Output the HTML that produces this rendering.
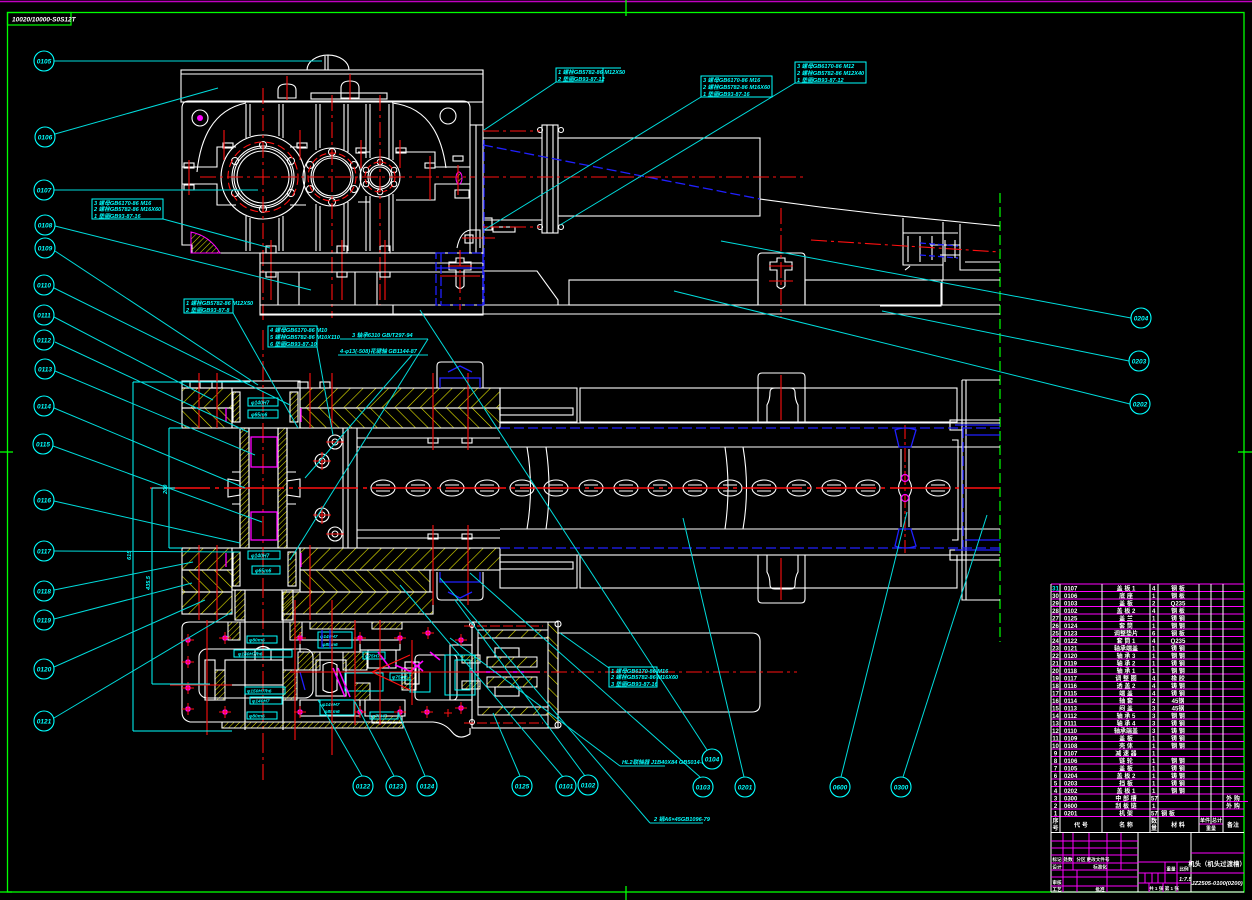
<!DOCTYPE html>
<html><head><meta charset="utf-8"><style>
html,body{margin:0;padding:0;background:#000;}
svg{display:block;}
text{font-family:"Liberation Sans","Noto Sans CJK SC",sans-serif;}
.bt{font-size:6.5px;font-style:italic;font-weight:bold;fill:#00ffff;text-anchor:middle;}
.ct{font-size:5.6px;font-style:italic;font-weight:bold;fill:#00ffff;}
.tt{font-size:6px;font-weight:bold;fill:#fff;}
.tm{font-size:6px;font-weight:bold;fill:#fff;text-anchor:middle;}
.ts{font-size:4.6px;font-weight:bold;fill:#fff;text-anchor:middle;}
</style></head><body>
<svg width="1252" height="900" viewBox="0 0 1252 900" xmlns="http://www.w3.org/2000/svg">
<defs>
<pattern id="hA" patternUnits="userSpaceOnUse" width="9" height="9" patternTransform="rotate(45)"><line x1="0" y1="0" x2="0" y2="9" stroke="#e6e600" stroke-width="1.2"/></pattern>
<pattern id="hB" patternUnits="userSpaceOnUse" width="9" height="9" patternTransform="rotate(-45)"><line x1="0" y1="0" x2="0" y2="9" stroke="#e6e600" stroke-width="1.2"/></pattern>
<pattern id="hC" patternUnits="userSpaceOnUse" width="4" height="4" patternTransform="rotate(45)"><line x1="0" y1="0" x2="0" y2="4" stroke="#e6e600" stroke-width="1"/></pattern>
</defs>
<rect width="1252" height="900" fill="#000"/>

<!-- frame -->
<line x1="0" y1="1.5" x2="1252" y2="1.5" stroke="#c000c0" stroke-width="1.5"/>
<rect x="7.5" y="12.5" width="1236.5" height="879.5" fill="none" stroke="#00ff00" stroke-width="1.3"/>
<g stroke="#00ff00" stroke-width="1.3">
<line x1="626" y1="0" x2="626" y2="16"/><line x1="626" y1="886" x2="626" y2="900"/>
<line x1="0" y1="452" x2="13" y2="452"/><line x1="1238" y1="452" x2="1252" y2="452"/>
<line x1="0" y1="892" x2="12" y2="892"/>
</g>
<rect x="7.5" y="12.5" width="63.5" height="12.5" fill="none" stroke="#00ff00" stroke-width="1.2"/>
<text x="12" y="21.5" style="font-size:6.5px;font-style:italic;font-weight:bold;fill:#fff">10020/10000-S0S12T</text>
<line x1="1000" y1="193" x2="1000" y2="642" stroke="#00ff00" stroke-width="1.2" stroke-dasharray="10 4"/>

<!-- ============ TOP VIEW GEARBOX ============ -->
<g fill="none" stroke="#fff" stroke-width="1.1">
<rect x="181" y="70" width="302" height="32"/>
<line x1="181" y1="74" x2="483" y2="74"/>
<path d="M307 70 A21 15 0 0 1 349 70"/>
<line x1="328" y1="55" x2="328" y2="70"/><line x1="325" y1="56" x2="325" y2="70"/>
<path d="M278 98 V90 Q278 84 287 84 Q296 84 296 90 V98 Z"/>
<path d="M341 98 V88 Q341 81 350 81 Q359 81 359 88 V98 Z"/>
<rect x="311" y="93" width="76" height="6"/>
<path d="M182 245 V108 Q182 101 189 101 H463 Q470 101 470 108 V253 H192 V245 Z"/>
<path d="M197 172 Q203 112 246 103"/>
<path d="M392 103 Q438 108 446 168"/>
<circle cx="200" cy="118" r="8"/>
<circle cx="448" cy="116" r="8"/>
<path d="M182 167 H217 V147 H236 M290 147 H306 M358 152 H370 M396 152 H435 V167 H470"/>
<path d="M182 184 H217 V205 H236 M290 205 H306 M358 202 H370 M396 200 H435 V184 H470"/>
<line x1="246" y1="104" x2="246" y2="138"/><line x1="250" y1="104" x2="250" y2="136"/>
<line x1="279" y1="104" x2="279" y2="136"/><line x1="283" y1="104" x2="283" y2="138"/>
<line x1="316" y1="104" x2="316" y2="150"/><line x1="320" y1="104" x2="320" y2="148"/>
<line x1="344" y1="104" x2="344" y2="150"/><line x1="348" y1="104" x2="348" y2="152"/>
<line x1="366" y1="104" x2="366" y2="158"/><line x1="370" y1="104" x2="370" y2="158"/>
<line x1="389" y1="104" x2="389" y2="160"/><line x1="393" y1="104" x2="393" y2="160"/>
<line x1="246" y1="216" x2="246" y2="251"/><line x1="250" y1="218" x2="250" y2="251"/>
<line x1="279" y1="218" x2="279" y2="251"/><line x1="283" y1="216" x2="283" y2="251"/>
<line x1="316" y1="204" x2="316" y2="251"/><line x1="320" y1="206" x2="320" y2="251"/>
<line x1="344" y1="204" x2="344" y2="251"/><line x1="348" y1="202" x2="348" y2="251"/>
<line x1="366" y1="196" x2="366" y2="251"/><line x1="370" y1="196" x2="370" y2="251"/>
<line x1="389" y1="194" x2="389" y2="251"/><line x1="393" y1="194" x2="393" y2="251"/>
<!-- gears -->
<circle cx="263" cy="177" r="42"/><circle cx="263" cy="177" r="31"/><circle cx="263" cy="177" r="29"/><circle cx="263" cy="177" r="26"/>
<circle cx="332" cy="177" r="29"/><circle cx="332" cy="177" r="21"/><circle cx="332" cy="177" r="19"/>
<circle cx="380" cy="177" r="20"/><circle cx="380" cy="177" r="12"/><circle cx="380" cy="177" r="10"/>
<g stroke-width="1">
<circle cx="263" cy="145" r="3.5"/><circle cx="263" cy="209" r="3.5"/><circle cx="235" cy="161" r="3.5"/><circle cx="291" cy="161" r="3.5"/><circle cx="235" cy="193" r="3.5"/><circle cx="291" cy="193" r="3.5"/>
<circle cx="332" cy="152" r="3.5"/><circle cx="332" cy="202" r="3.5"/><circle cx="310" cy="165" r="3.5"/><circle cx="354" cy="165" r="3.5"/><circle cx="310" cy="189" r="3.5"/><circle cx="354" cy="189" r="3.5"/>
<circle cx="380" cy="162" r="2.8"/><circle cx="380" cy="192" r="2.8"/><circle cx="366" cy="170" r="2.8"/><circle cx="394" cy="170" r="2.8"/><circle cx="366" cy="184" r="2.8"/><circle cx="394" cy="184" r="2.8"/>
</g>
<!-- bolts on flange -->
<rect x="184" y="163" width="10" height="5"/><rect x="184" y="185" width="10" height="5"/>
<rect x="223" y="143" width="10" height="5"/><rect x="297" y="143" width="10" height="5"/>
<rect x="356" y="148" width="10" height="5"/><rect x="396" y="148" width="10" height="5"/>
<rect x="425" y="163" width="10" height="5"/><rect x="453" y="156" width="10" height="5"/>
<rect x="266" y="246" width="10" height="7"/><rect x="337" y="246" width="10" height="7"/><rect x="380" y="246" width="10" height="7"/>
<!-- right side -->
<line x1="476" y1="125" x2="476" y2="253"/><line x1="470" y1="125" x2="483" y2="125"/>
<rect x="455" y="190" width="14" height="8"/>
<path d="M457 248 Q460 232 470 230 H480 V248"/>
<rect x="465" y="235" width="8" height="8"/>
</g>
<path d="M191 232 Q210 236 220 253 H191 Z" fill="url(#hC)" stroke="#ff00ff" stroke-width="1"/>
<ellipse cx="459" cy="178" rx="3" ry="6" fill="url(#hC)" stroke="#ff00ff"/>
<circle cx="200" cy="118" r="3" fill="#ff00ff"/>
<!-- red centerlines top -->
<g stroke="#ff1010" stroke-width="1.1" fill="none">
<path d="M200 177 H475" stroke-dasharray="16 4 3 4"/>
<circle cx="263" cy="177" r="35" stroke-dasharray="8 4"/>
<circle cx="332" cy="177" r="24" stroke-dasharray="7 3"/>
<circle cx="380" cy="177" r="15" stroke-dasharray="5 3"/>
<line x1="263" y1="88" x2="263" y2="320" stroke-dasharray="16 4 3 4"/>
<line x1="332" y1="95" x2="332" y2="318" stroke-dasharray="16 4 3 4"/>
<line x1="380" y1="95" x2="380" y2="305" stroke-dasharray="16 4 3 4"/>
<line x1="287" y1="76" x2="287" y2="100"/><line x1="350" y1="74" x2="350" y2="100"/>
<line x1="224" y1="130" x2="224" y2="160"/><line x1="300" y1="130" x2="300" y2="160"/>
<line x1="361" y1="140" x2="361" y2="168"/><line x1="400" y1="140" x2="400" y2="168"/>
<line x1="189" y1="160" x2="189" y2="195"/><line x1="430" y1="156" x2="430" y2="200"/>
<line x1="271" y1="240" x2="271" y2="300"/><line x1="342" y1="240" x2="342" y2="300"/><line x1="385" y1="240" x2="385" y2="300"/>
<line x1="458" y1="165" x2="458" y2="195"/>
<line x1="462" y1="238" x2="495" y2="238"/>
</g>

<!-- base under gearbox + frame -->
<g fill="none" stroke="#fff" stroke-width="1.1">
<rect x="260" y="253" width="223" height="62"/>
<line x1="260" y1="263" x2="483" y2="263"/><line x1="260" y1="272" x2="483" y2="272"/>
<line x1="260" y1="305" x2="1000" y2="305"/><line x1="260" y1="314" x2="1000" y2="314"/>
<line x1="278" y1="272" x2="278" y2="305"/><line x1="299" y1="272" x2="299" y2="305"/>
<line x1="355" y1="272" x2="355" y2="305"/><line x1="377" y1="272" x2="377" y2="305"/>
<line x1="393" y1="305" x2="393" y2="314"/>
<rect x="266" y="272" width="10" height="5"/><rect x="337" y="272" width="10" height="5"/><rect x="380" y="272" width="10" height="5"/>
<path d="M456 258 H464 V262 H471 V270 H464 V286 Q460 291 456 286 V270 H449 V262 H456 Z"/>
<line x1="483" y1="70" x2="483" y2="305"/>
<path d="M483 271 H537 L558 300 V305"/>
<rect x="569" y="280" width="189" height="25"/>
<path d="M758 305 V257 Q758 253 762 253 H801 Q805 253 805 257 V305"/>
<path d="M777 258 H785 V262 H792 V270 H785 V286 Q781 291 777 286 V270 H770 V262 H777 Z"/>
<rect x="805" y="280" width="137" height="25"/>
<!-- upper trough -->
<rect x="558" y="138" width="202" height="78"/>
<rect x="542" y="125" width="16" height="108"/>
<line x1="547" y1="125" x2="547" y2="233"/><line x1="553" y1="125" x2="553" y2="233"/>
<circle cx="540" cy="130" r="2.5"/><circle cx="561" cy="130" r="2.5"/><circle cx="540" cy="227" r="2.5"/><circle cx="561" cy="227" r="2.5"/>
<line x1="483" y1="138" x2="542" y2="138"/><line x1="483" y1="220" x2="542" y2="220"/>
<rect x="493" y="227" width="22" height="5"/>
<rect x="483" y="218" width="9" height="12"/>
<path d="M760 199 L820 207 L880 214 L1000 226"/>
<path d="M880 280 H1000 M880 306 H941 V282 M940 314 H1000"/>
<path d="M903 218 V265 H943 V280 M943 266 V222 M960 224 V270 H1000 M965 262 H1000 M903 233 H958 M908 236 V262 M920 236 V262 M932 236 V260 M945 240 V262 M955 240 V258 M930 245 H960 M940 255 H960"/>
<path d="M905 270 Q908 268 910 266"/>
</g>
<g stroke="#2020ff" stroke-width="1.3" fill="none">
<path d="M483 145 L760 199" stroke-dasharray="10 4"/>
<line x1="484" y1="140" x2="484" y2="305" stroke-dasharray="9 3"/>
<rect x="436" y="253" width="47" height="52" stroke-dasharray="9 3"/>
<line x1="441" y1="253" x2="441" y2="305" stroke-dasharray="9 3"/>
<line x1="436" y1="268" x2="483" y2="268"/>
<path d="M920 243 L958 246 M920 255 L958 258" stroke-dasharray="6 3"/>
</g>
<g stroke="#ff1010" stroke-width="1.1" fill="none" stroke-dasharray="16 4 3 4">
<line x1="483" y1="177" x2="807" y2="177"/>
<line x1="483" y1="131" x2="540" y2="131"/><line x1="483" y1="227" x2="540" y2="227"/>
<line x1="811" y1="240" x2="1000" y2="252"/>
<line x1="781" y1="208" x2="781" y2="318"/>
<line x1="460" y1="250" x2="460" y2="310"/>
</g>
<g stroke="#ff1010" stroke-width="1.1">
<line x1="448" y1="266" x2="472" y2="266"/><line x1="769" y1="266" x2="793" y2="266"/><line x1="769" y1="281" x2="793" y2="281"/>
<line x1="440" y1="276" x2="480" y2="276"/>
</g>

<!-- ============ SECTION VIEW ============ -->
<g stroke="#fff" stroke-width="1.1">
<rect x="182" y="388" width="50" height="20" fill="url(#hA)"/>
<rect x="300" y="388" width="200" height="20" fill="url(#hA)"/>
<rect x="182" y="408" width="50" height="20" fill="url(#hB)"/>
<rect x="300" y="408" width="200" height="20" fill="url(#hB)"/>
<rect x="182" y="548" width="50" height="22" fill="url(#hA)"/>
<rect x="300" y="548" width="200" height="22" fill="url(#hA)"/>
<rect x="182" y="570" width="50" height="22" fill="url(#hB)"/>
<rect x="300" y="570" width="130" height="22" fill="url(#hB)"/>
<rect x="182" y="592" width="50" height="22" fill="url(#hA)"/>
<rect x="283" y="592" width="150" height="22" fill="url(#hA)"/>
<rect x="240" y="428" width="9" height="120" fill="url(#hC)"/>
<rect x="278" y="428" width="9" height="120" fill="url(#hC)"/>
<rect x="235" y="590" width="10" height="30" fill="url(#hC)"/>
<rect x="282" y="590" width="11" height="30" fill="url(#hC)"/>
<rect x="233" y="392" width="7" height="30" fill="url(#hC)"/>
<rect x="290" y="392" width="8" height="30" fill="url(#hC)"/>
<rect x="233" y="552" width="7" height="34" fill="url(#hC)"/>
<rect x="288" y="552" width="8" height="34" fill="url(#hC)"/>
</g>
<g fill="none" stroke="#fff" stroke-width="1.1">
<rect x="182" y="381" width="118" height="7"/>
<rect x="190" y="382" width="10" height="6"/><rect x="212" y="382" width="10" height="6"/><rect x="298" y="382" width="10" height="6"/><rect x="320" y="382" width="10" height="6"/>
<rect x="232" y="388" width="68" height="40"/>
<line x1="240" y1="428" x2="240" y2="548"/><line x1="287" y1="428" x2="287" y2="548"/>
<line x1="249" y1="428" x2="249" y2="548"/><line x1="278" y1="428" x2="278" y2="548"/>
<rect x="232" y="548" width="68" height="42"/>
<path d="M228 479 L240 481 V495 L228 497 Z M300 479 L287 481 V495 L300 497 Z"/>
<path d="M232 472 H240 M232 504 H240 M287 472 H296 M287 504 H296"/>
<line x1="245" y1="614" x2="245" y2="730"/><line x1="283" y1="614" x2="283" y2="730"/>
<line x1="343" y1="428" x2="343" y2="548"/><line x1="348" y1="428" x2="348" y2="548"/><line x1="357" y1="428" x2="357" y2="548"/>
<circle cx="335" cy="442" r="7"/><circle cx="335" cy="442" r="3"/>
<circle cx="322" cy="461" r="7"/><circle cx="322" cy="461" r="3"/>
<circle cx="322" cy="515" r="7"/><circle cx="322" cy="515" r="3"/>
<circle cx="335" cy="534" r="7"/><circle cx="335" cy="534" r="3"/>
<path d="M357 438 H500 M357 447 H500 M357 530 H500 M357 538 H500"/>
<rect x="428" y="438" width="10" height="5"/><rect x="462" y="438" width="10" height="5"/>
<rect x="428" y="534" width="10" height="5"/><rect x="462" y="534" width="10" height="5"/>
<path d="M437 388 V366 Q437 362 441 362 H479 Q483 362 483 366 V388"/>
<path d="M437 572 V596 Q437 600 441 600 H479 Q483 600 483 596 V572"/>
<path d="M500 423 H1000 M500 447 H1000 M500 529 H1000 M500 555 H1000"/>
<rect x="500" y="388" width="77" height="34"/><rect x="500" y="408" width="73" height="7"/>
<rect x="500" y="555" width="77" height="33"/><rect x="500" y="562" width="73" height="7"/>
<rect x="580" y="388" width="377" height="34"/>
<rect x="580" y="555" width="377" height="33"/>
<path d="M758 422 V377 Q758 373 762 373 H801 Q805 373 805 377 V422"/>
<path d="M767 422 V405 Q770 400 770 392 Q770 388 775 388 H790 Q795 388 795 392 Q795 400 798 405 V422"/>
<path d="M758 555 V599 Q758 603 762 603 H801 Q805 603 805 599 V555"/>
<path d="M767 555 V572 Q770 577 770 585 Q770 589 775 589 H790 Q795 589 795 585 Q795 577 798 572 V555"/>
<path d="M527 447 Q534 488 527 529 M546 447 Q552 488 546 529"/>
<path d="M725 447 Q731 488 725 529 M743 447 Q750 488 743 529"/>
<path d="M901 449 V480 Q896 488 901 496 V527 M909 449 V480 Q914 488 909 496 V527"/>
<path d="M962 380 H1000 M962 380 V600 H1000 M966 380 V600 M952 440 H958 V540 H952 M962 420 H1000 M962 560 H1000"/>
<rect x="950" y="420" width="12" height="10"/><rect x="950" y="550" width="12" height="10"/>
</g>
<!-- chain -->
<g fill="none" stroke="#fff" stroke-width="1.1">
<ellipse cx="383" cy="488" rx="12" ry="8"/><ellipse cx="418" cy="488" rx="12" ry="8"/><ellipse cx="452" cy="488" rx="12" ry="8"/><ellipse cx="487" cy="488" rx="12" ry="8"/><ellipse cx="522" cy="488" rx="12" ry="8"/><ellipse cx="556" cy="488" rx="12" ry="8"/><ellipse cx="591" cy="488" rx="12" ry="8"/><ellipse cx="626" cy="488" rx="12" ry="8"/><ellipse cx="660" cy="488" rx="12" ry="8"/><ellipse cx="695" cy="488" rx="12" ry="8"/><ellipse cx="730" cy="488" rx="12" ry="8"/><ellipse cx="764" cy="488" rx="12" ry="8"/><ellipse cx="799" cy="488" rx="12" ry="8"/><ellipse cx="834" cy="488" rx="12" ry="8"/><ellipse cx="868" cy="488" rx="12" ry="8"/><ellipse cx="938" cy="488" rx="12" ry="8"/>
<path d="M376 485 H390 M411 485 H425 M445 485 H459 M480 485 H494 M515 485 H529 M549 485 H563 M584 485 H598 M619 485 H633 M653 485 H667 M688 485 H702 M723 485 H737 M757 485 H771 M792 485 H806 M827 485 H841 M861 485 H875 M931 485 H945"/>
<path d="M376 491 H390 M411 491 H425 M445 491 H459 M480 491 H494 M515 491 H529 M549 491 H563 M584 491 H598 M619 491 H633 M653 491 H667 M688 491 H702 M723 491 H737 M757 491 H771 M792 491 H806 M827 491 H841 M861 491 H875 M931 491 H945"/>
</g>
<g stroke="#ff1010" stroke-width="1.6">
<line x1="150" y1="488" x2="1000" y2="488" stroke-dasharray="60 5 4 5"/>
</g>
<g stroke="#ff1010" stroke-width="1.1" fill="none">
<line x1="263" y1="330" x2="263" y2="780" stroke-dasharray="20 4 3 4"/>
<line x1="905" y1="425" x2="905" y2="553" stroke-dasharray="14 3 3 3"/>
<line x1="781" y1="375" x2="781" y2="420"/><line x1="781" y1="558" x2="781" y2="600"/>
<line x1="199" y1="373" x2="199" y2="428"/><line x1="217" y1="373" x2="217" y2="428"/>
<line x1="310" y1="373" x2="310" y2="428"/><line x1="332" y1="373" x2="332" y2="428"/>
<line x1="433" y1="373" x2="433" y2="450"/><line x1="468" y1="373" x2="468" y2="450"/>
<line x1="433" y1="525" x2="433" y2="605"/><line x1="468" y1="525" x2="468" y2="605"/>
<line x1="199" y1="545" x2="199" y2="620"/><line x1="217" y1="545" x2="217" y2="620"/>
<line x1="310" y1="545" x2="310" y2="620"/>
<line x1="313" y1="461" x2="331" y2="461"/><line x1="322" y1="452" x2="322" y2="470"/>
<line x1="313" y1="515" x2="331" y2="515"/><line x1="322" y1="506" x2="322" y2="524"/>
<line x1="326" y1="442" x2="344" y2="442"/><line x1="326" y1="534" x2="344" y2="534"/>
</g>
<g fill="none" stroke="#ff00ff" stroke-width="1.3">
<rect x="251" y="437" width="26" height="30"/><rect x="251" y="512" width="26" height="28"/>
<line x1="226" y1="408" x2="226" y2="422"/><line x1="301" y1="408" x2="301" y2="422"/>
<line x1="226" y1="553" x2="226" y2="567"/><line x1="301" y1="553" x2="301" y2="567"/>
</g>
<g fill="none" stroke="#2020ff" stroke-width="1.3">
<line x1="500" y1="428" x2="1000" y2="428" stroke-dasharray="10 4"/>
<line x1="500" y1="548" x2="1000" y2="548" stroke-dasharray="10 4"/>
<line x1="963" y1="428" x2="963" y2="548" stroke-dasharray="10 4"/>
<path d="M895 430 Q905 426 916 430 L911 447 H899 Z"/>
<path d="M895 546 Q905 550 916 546 L911 529 H899 Z"/>
<path d="M440 388 V378 H480 V388 M448 372 L460 366 L472 372"/>
<path d="M440 572 V582 H480 V572 M448 592 L460 598 L472 592"/>
<path d="M955 425 H1000 M965 435 H1000 M955 550 H1000 M965 540 H1000"/>
</g>
<circle cx="905" cy="478" r="3.5" fill="none" stroke="#ff00ff" stroke-width="1.2"/>
<circle cx="905" cy="498" r="3.5" fill="none" stroke="#ff00ff" stroke-width="1.2"/>
<g fill="none" stroke="#00ffff" stroke-width="1">
<rect x="248" y="398" width="30" height="8"/><rect x="248" y="410" width="30" height="8"/>
<rect x="248" y="551" width="32" height="8"/><rect x="252" y="566" width="28" height="8"/>
</g>
<text x="251" y="404.5" class="ct" style="font-size:5px">φ140H7</text>
<text x="251" y="416.5" class="ct" style="font-size:5px">φ65m6</text>
<text x="251" y="557.5" class="ct" style="font-size:5px">φ140H7</text>
<text x="255" y="572.5" class="ct" style="font-size:5px">φ65m6</text>

<!-- ============ LOWER GEARBOX ============ -->
<g stroke="#fff" stroke-width="1">
<rect x="228" y="622" width="12" height="18" fill="url(#hC)"/>
<rect x="290" y="622" width="12" height="18" fill="url(#hC)"/>
<rect x="215" y="670" width="10" height="30" fill="url(#hC)"/>
<rect x="283" y="670" width="14" height="30" fill="url(#hC)"/>
<rect x="298" y="652" width="22" height="18" fill="url(#hC)"/>
<rect x="343" y="652" width="24" height="18" fill="url(#hC)"/>
<rect x="355" y="683" width="15" height="17" fill="url(#hC)"/>
<rect x="222" y="722" width="181" height="6" fill="url(#hC)"/>
<rect x="402" y="668" width="14" height="22" fill="url(#hC)"/>
<rect x="372" y="622" width="30" height="7" fill="url(#hC)"/>
<rect x="372" y="716" width="30" height="7" fill="url(#hC)"/>
<rect x="310" y="622" width="45" height="7" fill="url(#hC)"/>
<rect x="478" y="630" width="70" height="8" fill="url(#hA)"/>
<rect x="478" y="707" width="70" height="8" fill="url(#hA)"/>
<rect x="548" y="622" width="10" height="106" fill="url(#hB)"/>
<rect x="487" y="657" width="50" height="10" fill="url(#hA)"/>
<rect x="487" y="677" width="50" height="10" fill="url(#hA)"/>
<rect x="462" y="655" width="18" height="8" fill="url(#hC)"/>
<rect x="462" y="681" width="18" height="8" fill="url(#hC)"/>
</g>
<g fill="none" stroke="#fff" stroke-width="1.1">
<path d="M182 628 V712 Q182 720 190 722 H222 V728 H403 V722 H433 Q445 723 452 732 Q459 741 470 734 V728 M470 622 H190 Q182 622 182 628"/>
<rect x="199" y="649" width="114" height="49" rx="8"/>
<rect x="205" y="660" width="10" height="40"/>
<rect x="225" y="660" width="58" height="25"/>
<path d="M255 660 V650 Q263 643 271 650 V660"/>
<rect x="300" y="640" width="60" height="12"/>
<rect x="300" y="700" width="60" height="16"/>
<rect x="316" y="660" width="30" height="36"/>
<path d="M323 665 Q330 660 337 665 V690 Q330 695 323 690 Z"/>
<rect x="360" y="640" width="40" height="10"/><rect x="368" y="650" width="28" height="18"/>
<rect x="365" y="700" width="40" height="16"/>
<rect x="415" y="655" width="42" height="45" rx="4"/>
<rect x="405" y="662" width="14" height="22"/>
<rect x="450" y="645" width="22" height="55"/>
<rect x="472" y="622" width="86" height="106"/>
<rect x="478" y="638" width="70" height="69"/>
<rect x="495" y="648" width="24" height="9"/><rect x="495" y="687" width="24" height="9"/>
<path d="M558 633 H752 Q760 633 760 641 V704 Q760 712 752 712 H558"/>
<circle cx="558" cy="624" r="3"/><circle cx="558" cy="725" r="3"/><circle cx="472" cy="625" r="2.5"/><circle cx="472" cy="722" r="2.5"/>
</g>
<g fill="none" stroke="#00ffff" stroke-width="1">
<rect x="247" y="636" width="30" height="7"/><rect x="234" y="650" width="58" height="7"/>
<rect x="245" y="687" width="40" height="7"/><rect x="250" y="697" width="32" height="7"/>
<rect x="247" y="712" width="30" height="7"/>
<rect x="318" y="632" width="34" height="16"/><rect x="320" y="700" width="34" height="15"/>
<rect x="363" y="652" width="22" height="7"/><rect x="370" y="712" width="28" height="7"/>
<rect x="390" y="673" width="22" height="7"/><rect x="345" y="673" width="38" height="18"/>
<rect x="410" y="672" width="20" height="20"/><rect x="455" y="660" width="15" height="30"/>
<rect x="445" y="655" width="30" height="40"/>
</g>
<g class="ct" style="font-size:4.8px">
<text x="249" y="641.5">φ80m6</text><text x="238" y="655.5">φ140H7/h6</text>
<text x="247" y="692.5">φ150H7/h6</text><text x="252" y="702.5">φ140H7</text>
<text x="249" y="717.5">φ80m6</text>
<text x="320" y="638">φ140H7</text><text x="322" y="646">φ85m6</text>
<text x="322" y="706">φ140H7</text><text x="324" y="713">φ85m6</text>
<text x="365" y="657.5">φ75H7</text><text x="372" y="717.5">φ75H7</text>
<text x="392" y="678.5">φ75m6</text>
</g>
<g stroke="#ff00ff" stroke-width="1.6" fill="none">
<line x1="333" y1="668" x2="345" y2="697"/><line x1="338" y1="668" x2="350" y2="697"/>
<line x1="378" y1="652" x2="390" y2="668"/><line x1="395" y1="665" x2="412" y2="672"/>
<path d="M411 661 L423 671 M423 661 L411 671"/>
<line x1="470" y1="672" x2="540" y2="672"/>
<line x1="430" y1="652" x2="440" y2="660"/>
</g>
<g stroke="#2020ff" stroke-width="1.3" fill="none">
<line x1="322" y1="630" x2="322" y2="648"/><line x1="330" y1="630" x2="330" y2="648"/>
<line x1="300" y1="672" x2="305" y2="690"/>
</g>
<g stroke="#ff1010" stroke-width="1.1" fill="none">
<line x1="170" y1="685" x2="232" y2="685"/>
<line x1="290" y1="672" x2="470" y2="672"/>
<line x1="470" y1="672" x2="797" y2="672" stroke-dasharray="16 4 3 4"/>
<line x1="295" y1="600" x2="295" y2="740"/><line x1="332" y1="600" x2="332" y2="755"/>
<line x1="380" y1="620" x2="380" y2="725"/><line x1="355" y1="620" x2="355" y2="725"/>
<line x1="207" y1="620" x2="207" y2="735"/>
<line x1="372" y1="672" x2="410" y2="655"/><line x1="372" y1="672" x2="410" y2="690"/>
<line x1="464" y1="626" x2="543" y2="626" stroke-dasharray="10 3"/>
<line x1="464" y1="723" x2="543" y2="723" stroke-dasharray="10 3"/>
<line x1="412" y1="640" x2="412" y2="705"/>
</g>
<g>
<g fill="#ff00ff"><circle cx="188" cy="640" r="2.8"/><circle cx="188" cy="662" r="2.8"/><circle cx="188" cy="688" r="2.8"/><circle cx="188" cy="709" r="2.8"/><circle cx="225" cy="638" r="2.8"/><circle cx="225" cy="712" r="2.8"/><circle cx="300" cy="638" r="2.8"/><circle cx="300" cy="712" r="2.8"/><circle cx="360" cy="638" r="2.8"/><circle cx="360" cy="712" r="2.8"/><circle cx="400" cy="638" r="2.8"/><circle cx="400" cy="712" r="2.8"/><circle cx="428" cy="633" r="2.8"/><circle cx="461" cy="640" r="2.8"/><circle cx="461" cy="708" r="2.8"/><circle cx="427" cy="712" r="2.8"/></g>
<path stroke="#ff1010" stroke-width="1" d="M182 640 H194 M188 634 V646 M182 662 H194 M188 656 V668 M182 688 H194 M188 682 V694 M182 709 H194 M188 703 V715 M219 638 H231 M225 632 V644 M219 712 H231 M225 706 V718 M294 638 H306 M300 632 V644 M294 712 H306 M300 706 V718 M354 638 H366 M360 632 V644 M354 712 H366 M360 706 V718 M394 638 H406 M400 632 V644 M394 712 H406 M400 706 V718 M422 633 H434 M428 627 V639 M455 640 H467 M461 634 V646 M455 708 H467 M461 702 V714 M421 712 H433 M427 706 V718 M444 713 H452 M448 709 V717"/>
</g>

<!-- ============ DIMENSIONS ============ -->
<g stroke="#00ffff" stroke-width="1" fill="none">
<line x1="133" y1="382" x2="133" y2="731"/><line x1="133" y1="382" x2="250" y2="382"/><line x1="133" y1="731" x2="232" y2="731"/>
<line x1="152" y1="488" x2="152" y2="684"/><line x1="152" y1="488" x2="175" y2="488"/><line x1="152" y1="684" x2="210" y2="684"/>
<line x1="169" y1="428" x2="169" y2="548"/><line x1="169" y1="428" x2="182" y2="428"/><line x1="169" y1="548" x2="182" y2="548"/>
</g>
<text transform="translate(131,560) rotate(-90)" class="ct">615</text>
<text transform="translate(150,590) rotate(-90)" class="ct">435.5</text>
<text transform="translate(167,494) rotate(-90)" class="ct">200</text>

<!-- ============ LEADERS ============ -->
<g stroke="#00dcdc" stroke-width="1" fill="none">
<line x1="54" y1="61" x2="322" y2="61"/>
<line x1="55" y1="134" x2="218" y2="88"/>
<line x1="54" y1="190" x2="258" y2="190"/>
<line x1="55" y1="226" x2="311" y2="290"/>
<line x1="55" y1="251" x2="258" y2="385"/>
<line x1="54" y1="288" x2="290" y2="405"/>
<line x1="54" y1="317" x2="213" y2="400"/>
<line x1="55" y1="342" x2="248" y2="432"/>
<line x1="55" y1="371" x2="255" y2="455"/>
<line x1="54" y1="408" x2="245" y2="488"/>
<line x1="53" y1="446" x2="262" y2="522"/>
<line x1="54" y1="501" x2="240" y2="543"/>
<line x1="54" y1="551" x2="240" y2="552"/>
<line x1="54" y1="590" x2="193" y2="562"/>
<line x1="54" y1="619" x2="192" y2="583"/>
<line x1="54" y1="667" x2="205" y2="600"/>
<line x1="54" y1="718" x2="232" y2="612"/>
<line x1="163" y1="219" x2="270" y2="248"/>
<line x1="233" y1="313" x2="298" y2="428"/>
<line x1="317" y1="347" x2="333" y2="435"/>
<line x1="428" y1="339" x2="290" y2="560"/>
<line x1="412" y1="355" x2="305" y2="478"/>
<line x1="556" y1="82" x2="484" y2="130"/>
<line x1="701" y1="97" x2="484" y2="230"/>
<line x1="795" y1="83" x2="560" y2="225"/>
<line x1="721" y1="241" x2="1131" y2="318"/>
<line x1="882" y1="311" x2="1129" y2="361"/>
<line x1="674" y1="291" x2="1130" y2="404"/>
<line x1="362" y1="776" x2="318" y2="700"/>
<line x1="394" y1="776" x2="355" y2="702"/>
<line x1="425" y1="776" x2="398" y2="712"/>
<line x1="520" y1="776" x2="493" y2="713"/>
<line x1="563" y1="777" x2="400" y2="585"/>
<line x1="585" y1="776" x2="455" y2="600"/>
<line x1="700" y1="777" x2="470" y2="573"/>
<line x1="707" y1="750" x2="420" y2="310"/>
<line x1="744" y1="777" x2="683" y2="518"/>
<line x1="841" y1="777" x2="907" y2="512"/>
<line x1="903" y1="777" x2="987" y2="515"/>
<line x1="620" y1="766" x2="450" y2="638"/>
<line x1="650" y1="823" x2="440" y2="578"/>
<line x1="609" y1="668" x2="560" y2="633"/>
<line x1="620" y1="766" x2="665" y2="766"/>
<line x1="650" y1="823" x2="703" y2="823"/>
<line x1="340" y1="339" x2="428" y2="339"/>
<line x1="338" y1="355" x2="428" y2="355"/>
</g>

<g fill="none" stroke="#00ffff" stroke-width="1">
<rect x="556" y="68" width="47" height="14"/><line x1="603" y1="68" x2="621" y2="68"/>
<rect x="701" y="76" width="71" height="21"/>
<rect x="795" y="62" width="71" height="21"/>
<rect x="92" y="199" width="71" height="20"/>
<rect x="184" y="299" width="49" height="14"/>
<rect x="268" y="326" width="49" height="21"/>
<rect x="609" y="667" width="48" height="20"/>
</g>
<g class="ct">
<text x="558" y="74">1  螺栓GB5782-86 M12X50</text><text x="558" y="81">2  垫圈GB93-87-12</text>
<text x="703" y="82">3  螺母GB6170-86 M16</text><text x="703" y="89">2  螺栓GB5782-86 M16X60</text><text x="703" y="96">1  垫圈GB93-87-16</text>
<text x="797" y="68">3  螺母GB6170-86 M12</text><text x="797" y="75">2  螺栓GB5782-86 M12X40</text><text x="797" y="82">1  垫圈GB93-87-12</text>
<text x="94" y="205">3  螺母GB6170-86 M16</text><text x="94" y="211">2  螺栓GB5782-86 M16X60</text><text x="94" y="218">1  垫圈GB93-87-16</text>
<text x="186" y="305">1  螺栓GB5782-86 M12X50</text><text x="186" y="312">2  垫圈GB93-87-8</text>
<text x="270" y="332">4  螺母GB6170-86 M10</text><text x="270" y="339">5  螺栓GB5782-86 M10X110</text><text x="270" y="346">6  垫圈GB93-87-10</text>
<text x="611" y="673">1  螺母GB6170-86 M16</text><text x="611" y="679">2  螺栓GB5782-86 M16X60</text><text x="611" y="686">3  垫圈GB93-87-16</text>
<text x="352" y="337">3  轴承6310  GB/T297-94</text>
<text x="340" y="353">4-φ13(-508)花键轴 GB1144-87</text>
<text x="622" y="764">HL2联轴器  J1B40X84 GB5014-85</text>
<text x="654" y="821">2  销A6×45GB1096-79</text>
</g>

<g fill="#000" stroke="#00ffff" stroke-width="1.1">
<circle cx="44" cy="61" r="10"/><circle cx="45" cy="137" r="10"/><circle cx="44" cy="190" r="10"/><circle cx="45" cy="225" r="10"/><circle cx="45" cy="248" r="10"/><circle cx="44" cy="285" r="10"/><circle cx="44" cy="315" r="10"/><circle cx="44" cy="340" r="10"/><circle cx="45" cy="369" r="10"/><circle cx="44" cy="406" r="10"/><circle cx="43" cy="444" r="10"/><circle cx="44" cy="500" r="10"/><circle cx="44" cy="551" r="10"/><circle cx="44" cy="591" r="10"/><circle cx="44" cy="620" r="10"/><circle cx="44" cy="669" r="10"/><circle cx="44" cy="721" r="10"/>
<circle cx="1141" cy="318" r="10"/><circle cx="1139" cy="361" r="10"/><circle cx="1140" cy="404" r="10"/>
<circle cx="363" cy="786" r="10"/><circle cx="396" cy="786" r="10"/><circle cx="427" cy="786" r="10"/><circle cx="522" cy="786" r="10"/><circle cx="566" cy="786" r="10"/><circle cx="588" cy="785" r="10"/><circle cx="712" cy="759" r="10"/><circle cx="703" cy="787" r="10"/><circle cx="745" cy="787" r="10"/><circle cx="840" cy="787" r="10"/><circle cx="901" cy="787" r="10"/>
</g>
<g class="bt">
<text x="44" y="63.5">0105</text><text x="45" y="139.5">0106</text><text x="44" y="192.5">0107</text><text x="45" y="227.5">0108</text><text x="45" y="250.5">0109</text><text x="44" y="287.5">0110</text><text x="44" y="317.5">0111</text><text x="44" y="342.5">0112</text><text x="45" y="371.5">0113</text><text x="44" y="408.5">0114</text><text x="43" y="446.5">0115</text><text x="44" y="502.5">0116</text><text x="44" y="553.5">0117</text><text x="44" y="593.5">0118</text><text x="44" y="622.5">0119</text><text x="44" y="671.5">0120</text><text x="44" y="723.5">0121</text>
<text x="1141" y="320.5">0204</text><text x="1139" y="363.5">0203</text><text x="1140" y="406.5">0202</text>
<text x="363" y="788.5">0122</text><text x="396" y="788.5">0123</text><text x="427" y="788.5">0124</text><text x="522" y="788.5">0125</text><text x="566" y="788.5">0101</text><text x="588" y="787.5">0102</text><text x="712" y="761.5">0104</text><text x="703" y="789.5">0103</text><text x="745" y="789.5">0201</text><text x="840" y="789.5">0600</text><text x="901" y="789.5">0300</text>
</g>

<!-- ============ PARTS TABLE ============ -->
<g stroke="#ff00ff" stroke-width="1">
<line x1="1051" y1="584" x2="1244" y2="584"/><line x1="1051" y1="591.5" x2="1244" y2="591.5"/><line x1="1051" y1="599" x2="1244" y2="599"/><line x1="1051" y1="606.5" x2="1244" y2="606.5"/><line x1="1051" y1="614" x2="1244" y2="614"/><line x1="1051" y1="621.5" x2="1244" y2="621.5"/><line x1="1051" y1="629" x2="1244" y2="629"/><line x1="1051" y1="636.5" x2="1244" y2="636.5"/><line x1="1051" y1="644" x2="1244" y2="644"/><line x1="1051" y1="651.5" x2="1244" y2="651.5"/><line x1="1051" y1="659" x2="1244" y2="659"/><line x1="1051" y1="666.5" x2="1244" y2="666.5"/><line x1="1051" y1="674" x2="1244" y2="674"/><line x1="1051" y1="681.5" x2="1244" y2="681.5"/><line x1="1051" y1="689" x2="1244" y2="689"/><line x1="1051" y1="696.5" x2="1244" y2="696.5"/><line x1="1051" y1="704" x2="1244" y2="704"/><line x1="1051" y1="711.5" x2="1244" y2="711.5"/><line x1="1051" y1="719" x2="1244" y2="719"/><line x1="1051" y1="726.5" x2="1244" y2="726.5"/><line x1="1051" y1="734" x2="1244" y2="734"/><line x1="1051" y1="741.5" x2="1244" y2="741.5"/><line x1="1051" y1="749" x2="1244" y2="749"/><line x1="1051" y1="756.5" x2="1244" y2="756.5"/><line x1="1051" y1="764" x2="1244" y2="764"/><line x1="1051" y1="771.5" x2="1244" y2="771.5"/><line x1="1051" y1="779" x2="1244" y2="779"/><line x1="1051" y1="786.5" x2="1244" y2="786.5"/><line x1="1051" y1="794" x2="1244" y2="794"/><line x1="1051" y1="801.5" x2="1248" y2="801.5"/><line x1="1051" y1="809" x2="1244" y2="809"/><line x1="1051" y1="816.5" x2="1244" y2="816.5"/>
<line x1="1199" y1="824" x2="1223" y2="824"/>
</g>
<g stroke="#fff" stroke-width="1">
<line x1="1051" y1="584" x2="1051" y2="892"/><line x1="1060" y1="584" x2="1060" y2="832"/><line x1="1102" y1="584" x2="1102" y2="832"/><line x1="1150" y1="584" x2="1150" y2="832"/><line x1="1158" y1="584" x2="1158" y2="832"/><line x1="1199" y1="584" x2="1199" y2="832"/><line x1="1211" y1="584" x2="1211" y2="824"/><line x1="1223" y1="584" x2="1223" y2="832"/>
<line x1="1051" y1="832.5" x2="1244" y2="832.5"/><line x1="1051" y1="892" x2="1244" y2="892"/>
<line x1="1138" y1="832" x2="1138" y2="892"/><line x1="1191" y1="832" x2="1191" y2="892"/>
</g>
<g stroke="#ff00ff" stroke-width="1">
<path d="M1051 841 H1138 M1051 848 H1138 M1051 855 H1138 M1051 863 H1138 M1051 870 H1138 M1051 877 H1138 M1051 886 H1138"/>
<path d="M1063 833 V892 M1073 833 V870 M1089 833 V863 M1107 833 V892 M1121 833 V870 M1077 870 V892"/>
<path d="M1138 862 H1191 M1138 873 H1191 M1138 883 H1191 M1165 862 V883 M1177 862 V883 M1145 873 V883 M1152 873 V883 M1158 873 V883 M1149 883 V892 M1163 883 V892 M1177 883 V892"/>
<path d="M1191 853 H1244 M1191 873 H1244"/>
</g>
<g>
<text x="1055.5" y="590.3" class="tm" style="fill:#00ffff">31</text><text x="1064" y="590.3" class="tt">0107</text><text x="1126" y="590.3" class="tm">盖 板 1</text><text x="1152" y="590.3" class="tt">4</text><text x="1178" y="590.3" class="tm">钢 板</text>
<text x="1055.5" y="597.8" class="tm">30</text><text x="1064" y="597.8" class="tt">0106</text><text x="1126" y="597.8" class="tm">底 座</text><text x="1152" y="597.8" class="tt">1</text><text x="1178" y="597.8" class="tm">钢 板</text>
<text x="1055.5" y="605.3" class="tm">29</text><text x="1064" y="605.3" class="tt">0103</text><text x="1126" y="605.3" class="tm">盖 板</text><text x="1152" y="605.3" class="tt">2</text><text x="1178" y="605.3" class="tm">Q235</text>
<text x="1055.5" y="612.8" class="tm">28</text><text x="1064" y="612.8" class="tt">0102</text><text x="1126" y="612.8" class="tm">盖 板 2</text><text x="1152" y="612.8" class="tt">4</text><text x="1178" y="612.8" class="tm">钢 板</text>
<text x="1055.5" y="620.3" class="tm">27</text><text x="1064" y="620.3" class="tt">0125</text><text x="1126" y="620.3" class="tm">盖 兰</text><text x="1152" y="620.3" class="tt">1</text><text x="1178" y="620.3" class="tm">铸 钢</text>
<text x="1055.5" y="627.8" class="tm">26</text><text x="1064" y="627.8" class="tt">0124</text><text x="1126" y="627.8" class="tm">套 筒</text><text x="1152" y="627.8" class="tt">1</text><text x="1178" y="627.8" class="tm">钢 钢</text>
<text x="1055.5" y="635.3" class="tm">25</text><text x="1064" y="635.3" class="tt">0123</text><text x="1126" y="635.3" class="tm">调整垫片</text><text x="1152" y="635.3" class="tt">6</text><text x="1178" y="635.3" class="tm">钢 板</text>
<text x="1055.5" y="642.8" class="tm">24</text><text x="1064" y="642.8" class="tt">0122</text><text x="1126" y="642.8" class="tm">套 筒 1</text><text x="1152" y="642.8" class="tt">4</text><text x="1178" y="642.8" class="tm">Q235</text>
<text x="1055.5" y="650.3" class="tm">23</text><text x="1064" y="650.3" class="tt">0121</text><text x="1126" y="650.3" class="tm">轴承端盖</text><text x="1152" y="650.3" class="tt">1</text><text x="1178" y="650.3" class="tm">铸 钢</text>
<text x="1055.5" y="657.8" class="tm">22</text><text x="1064" y="657.8" class="tt">0120</text><text x="1126" y="657.8" class="tm">轴 承 3</text><text x="1152" y="657.8" class="tt">1</text><text x="1178" y="657.8" class="tm">钢 钢</text>
<text x="1055.5" y="665.3" class="tm">21</text><text x="1064" y="665.3" class="tt">0119</text><text x="1126" y="665.3" class="tm">轴 承 2</text><text x="1152" y="665.3" class="tt">1</text><text x="1178" y="665.3" class="tm">铸 钢</text>
<text x="1055.5" y="672.8" class="tm">20</text><text x="1064" y="672.8" class="tt">0118</text><text x="1126" y="672.8" class="tm">轴 承 1</text><text x="1152" y="672.8" class="tt">1</text><text x="1178" y="672.8" class="tm">钢 钢</text>
<text x="1055.5" y="680.3" class="tm">19</text><text x="1064" y="680.3" class="tt">0117</text><text x="1126" y="680.3" class="tm">调 整 圈</text><text x="1152" y="680.3" class="tt">4</text><text x="1178" y="680.3" class="tm">橡 胶</text>
<text x="1055.5" y="687.8" class="tm">18</text><text x="1064" y="687.8" class="tt">0116</text><text x="1126" y="687.8" class="tm">透 盖 2</text><text x="1152" y="687.8" class="tt">4</text><text x="1178" y="687.8" class="tm">铸 钢</text>
<text x="1055.5" y="695.3" class="tm">17</text><text x="1064" y="695.3" class="tt">0115</text><text x="1126" y="695.3" class="tm">端 盖</text><text x="1152" y="695.3" class="tt">4</text><text x="1178" y="695.3" class="tm">铸 钢</text>
<text x="1055.5" y="702.8" class="tm">16</text><text x="1064" y="702.8" class="tt">0114</text><text x="1126" y="702.8" class="tm">轴 套</text><text x="1152" y="702.8" class="tt">2</text><text x="1178" y="702.8" class="tm">45钢</text>
<text x="1055.5" y="710.3" class="tm">15</text><text x="1064" y="710.3" class="tt">0113</text><text x="1126" y="710.3" class="tm">闷 盖</text><text x="1152" y="710.3" class="tt">3</text><text x="1178" y="710.3" class="tm">45钢</text>
<text x="1055.5" y="717.8" class="tm">14</text><text x="1064" y="717.8" class="tt">0112</text><text x="1126" y="717.8" class="tm">轴 承 5</text><text x="1152" y="717.8" class="tt">3</text><text x="1178" y="717.8" class="tm">钢 钢</text>
<text x="1055.5" y="725.3" class="tm">13</text><text x="1064" y="725.3" class="tt">0111</text><text x="1126" y="725.3" class="tm">轴 承 4</text><text x="1152" y="725.3" class="tt">3</text><text x="1178" y="725.3" class="tm">铸 钢</text>
<text x="1055.5" y="732.8" class="tm">12</text><text x="1064" y="732.8" class="tt">0110</text><text x="1126" y="732.8" class="tm">轴承端盖</text><text x="1152" y="732.8" class="tt">3</text><text x="1178" y="732.8" class="tm">铸 钢</text>
<text x="1055.5" y="740.3" class="tm">11</text><text x="1064" y="740.3" class="tt">0109</text><text x="1126" y="740.3" class="tm">盖 板</text><text x="1152" y="740.3" class="tt">1</text><text x="1178" y="740.3" class="tm">铸 钢</text>
<text x="1055.5" y="747.8" class="tm">10</text><text x="1064" y="747.8" class="tt">0108</text><text x="1126" y="747.8" class="tm">壳 体</text><text x="1152" y="747.8" class="tt">1</text><text x="1178" y="747.8" class="tm">钢 钢</text>
<text x="1055.5" y="755.3" class="tm">9</text><text x="1064" y="755.3" class="tt">0107</text><text x="1126" y="755.3" class="tm">减 速 器</text><text x="1152" y="755.3" class="tt">1</text>
<text x="1055.5" y="762.8" class="tm">8</text><text x="1064" y="762.8" class="tt">0106</text><text x="1126" y="762.8" class="tm">链 轮</text><text x="1152" y="762.8" class="tt">1</text><text x="1178" y="762.8" class="tm">钢 钢</text>
<text x="1055.5" y="770.3" class="tm">7</text><text x="1064" y="770.3" class="tt">0105</text><text x="1126" y="770.3" class="tm">盖 板</text><text x="1152" y="770.3" class="tt">1</text><text x="1178" y="770.3" class="tm">铸 钢</text>
<text x="1055.5" y="777.8" class="tm">6</text><text x="1064" y="777.8" class="tt">0204</text><text x="1126" y="777.8" class="tm">盖 板 2</text><text x="1152" y="777.8" class="tt">1</text><text x="1178" y="777.8" class="tm">铸 钢</text>
<text x="1055.5" y="785.3" class="tm">5</text><text x="1064" y="785.3" class="tt">0203</text><text x="1126" y="785.3" class="tm">挡 板</text><text x="1152" y="785.3" class="tt">1</text><text x="1178" y="785.3" class="tm">铸 钢</text>
<text x="1055.5" y="792.8" class="tm">4</text><text x="1064" y="792.8" class="tt">0202</text><text x="1126" y="792.8" class="tm">盖 板 1</text><text x="1152" y="792.8" class="tt">1</text><text x="1178" y="792.8" class="tm">钢 钢</text>
<text x="1055.5" y="800.3" class="tm">3</text><text x="1064" y="800.3" class="tt">0300</text><text x="1126" y="800.3" class="tm">中 部 槽</text><text x="1151" y="800.3" class="tt">57</text><text x="1233" y="800.3" class="tm">外 购</text>
<text x="1055.5" y="807.8" class="tm">2</text><text x="1064" y="807.8" class="tt">0600</text><text x="1126" y="807.8" class="tm">刮 板 链</text><text x="1152" y="807.8" class="tt">1</text><text x="1233" y="807.8" class="tm">外 购</text>
<text x="1055.5" y="815.3" class="tm">1</text><text x="1064" y="815.3" class="tt">0201</text><text x="1126" y="815.3" class="tm">机 架</text><text x="1151" y="815.3" class="tt">57</text><text x="1168" y="815.3" class="tm">钢 板</text>
<text x="1055.5" y="823" class="tm">序</text><text x="1055.5" y="830" class="tm">号</text>
<text x="1081" y="827" class="tm">代 号</text><text x="1126" y="827" class="tm">名 称</text>
<text x="1154" y="823" class="tm">数</text><text x="1154" y="830" class="tm">量</text>
<text x="1178" y="827" class="tm">材 料</text>
<text x="1205" y="822" class="tm" style="font-size:5px">单件</text><text x="1217" y="822" class="tm" style="font-size:5px">总计</text><text x="1211" y="830" class="tm" style="font-size:5px">重量</text>
<text x="1233" y="827" class="tm">备注</text>
<text x="1057" y="861" class="ts">标记</text><text x="1068" y="861" class="ts">处数</text><text x="1081" y="861" class="ts">分区</text><text x="1098" y="861" class="ts">更改文件号</text>
<text x="1057" y="868.5" class="ts">设计</text><text x="1100" y="868.5" class="ts">标准化</text>
<text x="1057" y="884" class="ts">审核</text><text x="1057" y="891" class="ts">工艺</text><text x="1100" y="891" class="ts">批准</text>
<text x="1171" y="870.5" class="ts">重量</text><text x="1184" y="870.5" class="ts">比例</text>
<text x="1179" y="881" class="tt" style="font-style:italic;font-size:5.5px">1:7.5</text>
<text x="1164" y="890" class="ts">共 1 张 第 1 张</text>
<text x="1217" y="866" class="tm" style="font-size:6.4px">机头（机头过渡槽）</text>
<text x="1217" y="885" class="tm" style="font-size:5.8px;font-style:italic">JZ2505-0100(0200)</text>
</g>
</svg>
</body></html>
